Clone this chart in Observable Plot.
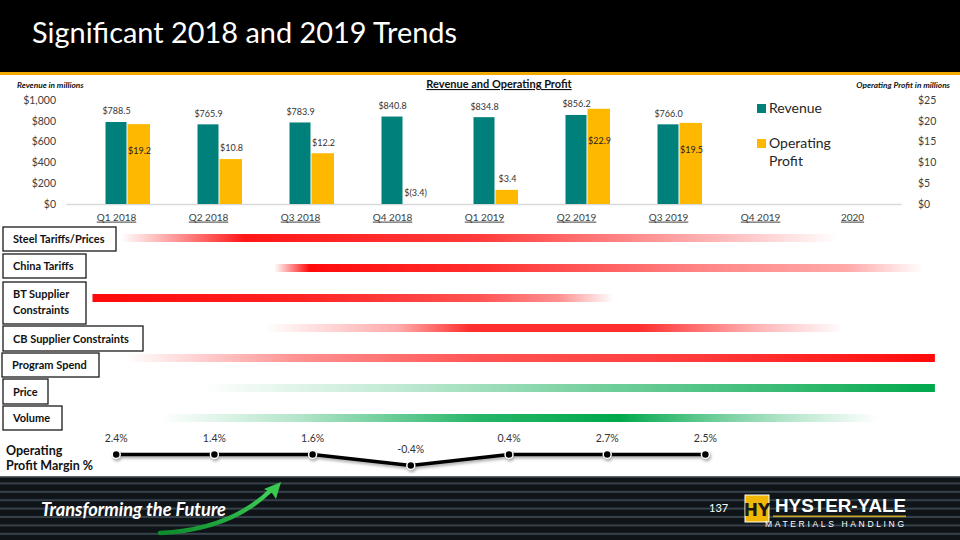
<!DOCTYPE html>
<html><head><meta charset="utf-8">
<script src="https://cdn.jsdelivr.net/npm/d3@7"></script>
<script src="https://cdn.jsdelivr.net/npm/@observablehq/plot@0.6"></script>
<style>
body{margin:0;background:#fff}
#page{position:relative;width:960px;height:540px;overflow:hidden;background:#fff;font-family:Lato,"Open Sans",sans-serif}
#page > svg{position:absolute;left:0;top:0}
</style></head>
<body><div id="page">
<svg id="deco" width="960" height="540" style="position:absolute;left:0;top:0">
  <defs>
    <pattern id="stripes" width="960" height="8.4" patternUnits="userSpaceOnUse" y="476">
      <rect width="960" height="8.4" fill="#0e1418"/>
      <rect y="6.4" width="960" height="2" fill="#37424a"/>
    </pattern>
    <linearGradient id="arrowG" x1="0" x2="1" y1="1" y2="0">
      <stop offset="0" stop-color="#0d8a2c"/><stop offset="1" stop-color="#3fd157"/>
    </linearGradient>
  </defs>
  <rect x="0" y="0" width="960" height="72" fill="#000"/>
  <rect x="0" y="72" width="960" height="3" fill="#F2A900"/>
  <text x="32" y="43" font-size="29" fill="#fff" textLength="425" lengthAdjust="spacingAndGlyphs">Significant 2018 and 2019 Trends</text>
  <rect x="0" y="476" width="960" height="64" fill="url(#stripes)"/>
  <rect x="0" y="476" width="960" height="1.5" fill="#5b666e"/>
</svg>
<svg id="overlay" width="960" height="540" style="position:absolute;left:0;top:0;pointer-events:none"></svg>
</div>
<script>
// ---------- data ----------
const quarters = ["Q1 2018","Q2 2018","Q3 2018","Q4 2018","Q1 2019","Q2 2019","Q3 2019","Q4 2019","2020"];
const revenue = [788.5, 765.9, 783.9, 840.8, 834.8, 856.2, 766.0, null, null];
const opProfit = [19.2, 10.8, 12.2, -3.4, 3.4, 22.9, 19.5, null, null];
const revenueTicks = [0, 200, 400, 600, 800, 1000];
const profitTicks = [0, 5, 10, 15, 20, 25];
const marginPct = [2.4, 1.4, 1.6, -0.4, 0.4, 2.7, 2.5];

const factors = ["Steel Tariffs/Prices","China Tariffs","BT Supplier Constraints","CB Supplier Constraints","Program Spend","Price","Volume"];
const factorEffect = ["negative","negative","negative","negative","negative","positive","positive"];
const factorStart = [0.08, 1.74, -0.22, 1.63, 0.13, 0.94, 0.51];   // in quarter units
const factorEnd   = [7.82, 8.73, 5.40, 7.87, 8.86, 8.86, 8.25];
const factorIntensity = [
  [[0.08,0],[1.42,0.95],[3.95,0.8],[5.24,0.55],[6.96,0.2],[7.82,0]],
  [[1.74,0],[2.12,1],[3.95,0.85],[6.31,0.5],[7.92,0.35],[8.73,0]],
  [[-0.22,1],[2.01,0.9],[3.95,0.7],[4.81,0.45],[5.40,0]],
  [[1.63,0],[3.09,0.35],[3.84,0.85],[5.67,0.85],[6.96,0.3],[7.87,0]],
  [[0.13,0],[2.01,0.45],[3.95,0.7],[6.31,0.8],[8.86,1]],
  [[0.94,0],[3.09,0.25],[5.24,0.55],[7.39,0.8],[8.86,1]],
  [[0.51,0],[2.01,0.3],[3.95,0.85],[5.45,1],[6.53,0.55],[7.39,0.25],[8.25,0]]
];
const factorLabelLines = [["Steel Tariffs/Prices"],["China Tariffs"],["BT Supplier","Constraints"],["CB Supplier Constraints"],["Program Spend"],["Price"],["Volume"]];

// ---------- helpers ----------
const page = document.getElementById("page");
const TEAL = "#00807A", GOLD = "#FFB800", TXT = "#404040";
const baseStyle = {position:"absolute", left:"0px", top:"0px", background:"transparent", overflow:"visible", fontFamily:"Lato, sans-serif", color:TXT};
const common = {width:960, height:540, marginLeft:66.5, marginRight:58.5, marginTop:100, marginBottom:336, style:baseStyle};
const rows = quarters.map((q,i)=>({q, rev:revenue[i], op:opProfit[i]})).filter(d=>d.rev!=null);
const money = v => v < 0 ? "$(" + Math.abs(v).toFixed(1) + ")" : "$" + v.toFixed(1);

// ---------- gradient factor bars ----------
const factorRows = factors.map((name,i)=>({name, i, start:factorStart[i], end:factorEnd[i]}));
const gradPlot = Plot.plot({
  width:960, height:540, margin:0, style:baseStyle,
  x:{domain:[-0.5,8.5], range:[66.5,901.5], axis:null},
  y:{type:"band", domain:factors, range:[223,433], padding:0, axis:null},
  marks: factorRows.map(d => Plot.barX([d], {x1:"start", x2:"end", y:"name", fill:`url(#fgrad${d.i})`, insetTop:11, insetBottom:11}))
});
{
  const defs = d3.select(gradPlot).insert("defs", ":first-child");
  factorRows.forEach(d => {
    const col = factorEffect[d.i] === "negative" ? "#FF0A0A" : "#00A84C";
    const g = defs.append("linearGradient").attr("id","fgrad"+d.i).attr("x1",0).attr("x2",1).attr("y1",0).attr("y2",0);
    factorIntensity[d.i].forEach(([q,o]) => g.append("stop")
      .attr("offset", Math.max(0, Math.min(1, (q-d.start)/(d.end-d.start))))
      .attr("stop-color", col).attr("stop-opacity", o));
  });
  d3.select(gradPlot).selectAll("rect").style("filter","blur(0.7px)");
}
page.appendChild(gradPlot);

// ---------- revenue bars (left axis) ----------
const revPlot = Plot.plot({
  ...common,
  x:{type:"band", domain:quarters, padding:0},
  y:{domain:[0,1000]},
  marks:[
    Plot.ruleY([0], {stroke:"#d9d9d9", strokeWidth:1.5}),
    Plot.barY(rows, {x:"q", y:"rev", fill:TEAL, insetLeft:35.5, insetRight:35.5}),
    Plot.text(rows, {x:"q", y:"rev", text:d=>money(d.rev), dy:-11, fontSize:9, fill:"#333"}),
    Plot.axisY({anchor:"left", ticks:revenueTicks, tickFormat:d=>"$"+d3.format(",")(d), tickSize:0, tickPadding:11, fontSize:10.5, label:null}),
    Plot.axisX({anchor:"bottom", tickSize:0, tickPadding:9, fontSize:10, label:null})
  ]
});
d3.select(revPlot).selectAll('g[aria-label="x-axis tick label"] text').style("text-decoration","underline");
page.appendChild(revPlot);

// ---------- operating profit bars (right axis) ----------
const opPlot = Plot.plot({
  ...common,
  x:{type:"band", domain:quarters, padding:0, axis:null},
  y:{domain:[0,25]},
  marks:[
    Plot.barY(rows, {x:"q", y:"op", fill:GOLD, insetLeft:57.5, insetRight:12, clip:true}),
    Plot.text(rows.filter(d=>d.op>15), {x:"q", y:d=>d.op*0.67, text:d=>money(d.op), dx:23, fontSize:9, fill:"#222"}),
    Plot.text(rows.filter(d=>d.op<=15), {x:"q", y:d=>Math.max(0,d.op), text:d=>money(d.op), dx:23, dy:-11, fontSize:9, fill:"#333"}),
    Plot.axisY({anchor:"right", ticks:profitTicks, tickFormat:d=>"$"+d, tickSize:0, tickPadding:16, fontSize:10.5, label:null})
  ]
});
page.appendChild(opPlot);

// ---------- operating profit margin line ----------
const mrows = marginPct.map((v,i)=>({i, v, sign: v >= 0 ? "positive" : "negative"}));
const marginPlot = Plot.plot({
  width:960, height:540, margin:0, style:{...baseStyle, filter:"drop-shadow(1px 2px 1.5px rgba(0,0,0,0.35))"},
  x:{domain:[0,6], range:[115.7,704.9], axis:null},
  y:{type:"point", domain:["positive","negative"], range:[454,465], padding:0, axis:null},
  marks:[
    Plot.line(mrows, {x:"i", y:"sign", stroke:"#000", strokeWidth:3.5}),
    Plot.dot(mrows, {x:"i", y:"sign", r:4, fill:"#000", stroke:"#fff", strokeWidth:1.5})
  ]
});
page.appendChild(marginPlot);
const marginLabels = Plot.plot({
  width:960, height:540, margin:0, style:baseStyle,
  x:{domain:[0,6], range:[115.7,704.9], axis:null},
  y:{type:"point", domain:["positive","negative"], range:[454,465], padding:0, axis:null},
  marks:[ Plot.text(mrows, {x:"i", y:"sign", text:d=>d.v.toFixed(1)+"%", dy:-16, fontSize:10.5, fill:"#333"}) ]
});
page.appendChild(marginLabels);

// ---------- annotations (titles, legend, label boxes, footer) ----------
const ov = d3.select("#overlay");
page.appendChild(document.getElementById("overlay"));
ov.append("text").attr("x",17).attr("y",88).attr("font-size",8.3).attr("font-weight",700).attr("font-style","italic").attr("fill","#111").text("Revenue in millions");
ov.append("text").attr("x",950).attr("y",88).attr("text-anchor","end").attr("font-size",8.3).attr("font-weight",700).attr("font-style","italic").attr("fill","#111").text("Operating Profit in millions");
ov.append("text").attr("x",499).attr("y",88).attr("text-anchor","middle").attr("font-size",11).attr("font-weight",700).attr("fill","#111").style("text-decoration","underline").text("Revenue and Operating Profit");
// legend
ov.append("rect").attr("x",757).attr("y",104).attr("width",9).attr("height",9).attr("fill",TEAL);
ov.append("text").attr("x",769).attr("y",113).attr("font-size",14).attr("fill","#262626").text("Revenue");
ov.append("rect").attr("x",757).attr("y",139).attr("width",9).attr("height",9).attr("fill",GOLD);
ov.append("text").attr("x",769).attr("y",148).attr("font-size",14).attr("fill","#262626").text("Operating");
ov.append("text").attr("x",769).attr("y",166).attr("font-size",14).attr("fill","#262626").text("Profit");
// factor label boxes
const boxes = [[3,227,113,24],[3,254,83,24],[3,282,83,42],[3,326,140,25],[2,353,97,24],[3,379,45,25],[3,406,59,24]];
boxes.forEach(([x,y,w,h],i)=>{
  ov.append("rect").attr("x",x).attr("y",y).attr("width",w).attr("height",h).attr("fill","#fff").attr("stroke","#1a1a1a").attr("stroke-width",1.3);
  const lines = factorLabelLines[i];
  lines.forEach((t,j)=>{
    const by = lines.length === 1 ? y + h/2 + 4 : y + 15.5 + j*16;
    ov.append("text").attr("x",x+10).attr("y",by).attr("font-size",11).attr("font-weight",700).attr("fill","#111").text(t);
  });
});
ov.append("text").attr("x",6).attr("y",455).attr("font-size",12.5).attr("font-weight",700).attr("fill","#111").text("Operating");
ov.append("text").attr("x",6).attr("y",470).attr("font-size",12.5).attr("font-weight",700).attr("fill","#111").text("Profit Margin %");
// footer
ov.append("path").attr("d","M160,533 C205,531 243,517 270,491").attr("fill","none").attr("stroke","url(#arrowG)").attr("stroke-width",4.5).attr("stroke-linecap","round");
ov.append("path").attr("d","M281,482 L276,499 L272,493 L264,489 Z").attr("fill","#38c94f");
ov.append("text").attr("x",41).attr("y",516).attr("font-size",18).attr("font-weight",700).attr("font-style","italic").attr("fill","#fff").attr("textLength",185).attr("lengthAdjust","spacingAndGlyphs").text("Transforming the Future");
ov.append("text").attr("x",709).attr("y",512).attr("font-size",11).attr("fill","#fff").text("137");
ov.append("rect").attr("x",745).attr("y",495).attr("width",24).attr("height",27).attr("fill","#F2B705").attr("stroke","#fff").attr("stroke-width",1);
ov.append("text").attr("x",757).attr("y",516).attr("text-anchor","middle").attr("font-size",17).attr("font-weight",900).attr("fill","#1a1a1a").attr("font-family","DejaVu Sans").text("HY");
ov.append("text").attr("x",775).attr("y",512).attr("font-size",19).attr("font-weight",900).attr("fill","#fff").attr("textLength",131).attr("lengthAdjust","spacingAndGlyphs").attr("font-family","Liberation Sans, Arial, sans-serif").text("HYSTER-YALE");
ov.append("rect").attr("x",773).attr("y",515.5).attr("width",133).attr("height",1.6).attr("fill","#C9A227");
ov.append("text").attr("x",765).attr("y",527).attr("font-size",8.5).attr("fill","#fff").attr("textLength",139).attr("lengthAdjust","spacing").attr("font-family","Liberation Sans, Arial, sans-serif").text("MATERIALS HANDLING");
</script>
</body></html>
